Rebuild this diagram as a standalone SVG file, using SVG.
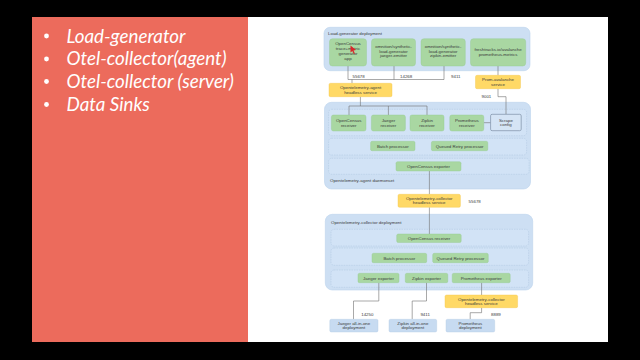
<svg xmlns="http://www.w3.org/2000/svg" width="640" height="360" viewBox="0 0 640 360">
<defs>
<style>
.cont{fill:#cddff3;stroke:#bcd3ec;stroke-width:0.6}
.row{fill:#d2e3f6;stroke:#a7bfdc;stroke-width:0.4;stroke-dasharray:1.5 1}
.g{fill:#a9d7a2;stroke:#96c98f;stroke-width:0.4}
.y{fill:#ffd966;stroke:#f3c64a;stroke-width:0.4}
.b{fill:#c7dbf1;stroke:#b3cbe7;stroke-width:0.4}
.sc{fill:#d5e4f5;stroke:#6f8199;stroke-width:0.6}
.t{font-family:"Liberation Sans",Arial,sans-serif;font-size:4.4px;fill:#3a3a3a;text-anchor:middle}
.l{font-family:"Liberation Sans",Arial,sans-serif;font-size:4.4px;fill:#3a3a3a}
.ln{stroke:#6e6e6e;stroke-width:0.6;fill:none}
.bul{font-family:Lato,"Open Sans",sans-serif;font-style:italic;font-size:18.8px;fill:#ffffff}
</style>
</defs>
<rect x="0" y="0" width="640" height="360" fill="#000"/>
<rect x="32" y="17" width="216" height="325" fill="#ec6b5c"/>
<rect x="248" y="17" width="360" height="325" fill="#ffffff"/>

<g id="bullets">
<circle cx="46.5" cy="36" r="2.4" fill="#fff"/>
<circle cx="46.5" cy="59" r="2.4" fill="#fff"/>
<circle cx="46.5" cy="81.5" r="2.4" fill="#fff"/>
<circle cx="46.5" cy="104.5" r="2.4" fill="#fff"/>
<text class="bul" x="66.5" y="42.5">Load-generator</text>
<text class="bul" x="66.5" y="65.3">Otel-collector(agent)</text>
<text class="bul" x="66.5" y="88">Otel-collector (server)</text>
<text class="bul" x="66.5" y="110.8">Data Sinks</text>
</g>

<g id="containers">
<rect class="cont" x="324" y="27.3" width="206" height="43.4" rx="6"/>
<text class="l" x="328" y="35">Load-generator deployment</text>
<rect class="cont" x="324.5" y="102.3" width="206" height="86.7" rx="7"/>
<rect class="row" x="328.6" y="109.3" width="198" height="26.4" rx="3"/>
<rect class="row" x="328.6" y="138.3" width="198" height="16.7" rx="3"/>
<rect class="row" x="328.6" y="158.3" width="200.5" height="16" rx="3"/>
<text class="l" x="330" y="182">Opentelemetry-agent daemonset</text>
<rect class="cont" x="325.3" y="214.3" width="207.4" height="75.7" rx="7"/>
<text class="l" x="331" y="224">Opentelemetry-collector deployment</text>
<rect class="row" x="331" y="229.3" width="197.6" height="16.7" rx="3"/>
<rect class="row" x="331" y="248" width="197.6" height="17.3" rx="3"/>
<rect class="row" x="331" y="270" width="197.6" height="17.3" rx="3"/>
</g>

<g id="connectors">
<path class="ln" d="M348 66V79.5H444M394 66V79.5M444 66V79.5M352 79.5V83.3"/>
<path class="ln" d="M498 66V75.3"/>
<path class="ln" d="M498 88.7V96.7H506V114.3"/>
<path class="ln" d="M360.4 96.7V106M349 106H427M349 106V115M388.4 106V115M427 106V115"/>
<path class="ln" d="M483.7 122.7H490.6"/>
<path class="ln" d="M429.4 171V194.3M429.4 207.3V234"/>
<path class="ln" d="M378.8 282.7V301H353.5V319.3"/>
<path class="ln" d="M426.5 282.7V301H412.2V319.3"/>
<path class="ln" d="M481.6 282.7V295M481.6 307.7V312.7H470.2V319.3"/>
<text class="l" x="352.5" y="77.5">55678</text>
<text class="l" x="400" y="77.5">14268</text>
<text class="l" x="451" y="77.5">9411</text>
<text class="l" x="481.5" y="98">9001</text>
<text class="l" x="468.6" y="203">55678</text>
<text class="l" x="361.2" y="316">14250</text>
<text class="l" x="420.4" y="316">9411</text>
<text class="l" x="491" y="316">8889</text>
</g>

<g id="ocgen">
<rect class="g" x="329.5" y="38.7" width="37" height="27.3" rx="3"/>
<text class="t" x="348" y="44.5">OpenCensus</text>
<text class="t" x="348" y="49.5">trace+metric</text>
<text class="t" x="348" y="54.5">generator</text>
<text class="t" x="348" y="59.7">app</text>
<path d="M350.5 45.5L356 50L353.5 50.5L355 53.5L353.8 54L352.3 51L350.5 52.5Z" fill="#d8262b"/>
</g>
<g id="jaegeremitter">
<rect class="g" x="371.5" y="38.7" width="44" height="27.3" rx="3"/>
<text class="t" x="393.5" y="48">omnition/synthetic-</text>
<text class="t" x="393.5" y="52.6">load-generator</text>
<text class="t" x="393.5" y="57.2">jaeger-emitter</text>
</g>
<g id="zipkinemitter">
<rect class="g" x="421" y="38.7" width="44.3" height="27.3" rx="3"/>
<text class="t" x="443.1" y="48">omnition/synthetic-</text>
<text class="t" x="443.1" y="52.6">load-generator</text>
<text class="t" x="443.1" y="57.2">zipkin-emitter</text>
</g>
<g id="avalanche">
<rect class="g" x="470.5" y="38.7" width="55.2" height="27.3" rx="3"/>
<text class="t" x="498.1" y="51">freshtracks.io/avalanche</text>
<text class="t" x="498.1" y="55.6">prometheus-metrics</text>
</g>
<g id="agentsvc">
<rect class="y" x="329" y="83.3" width="63" height="13.4" rx="1.5"/>
<text class="t" x="360.5" y="89">Opentelemetry-agent</text>
<text class="t" x="360.5" y="93.6">headless service</text>
</g>
<g id="promsvc">
<rect class="y" x="475.5" y="75.3" width="45" height="13.4" rx="1.5"/>
<text class="t" x="498" y="81">Prom-avalanche</text>
<text class="t" x="498" y="85.6">service</text>
</g>

<g id="ocrecv">
<rect class="g" x="331.4" y="115" width="34.6" height="16" rx="2"/>
<text class="t" x="348.7" y="122">OpenCensus</text>
<text class="t" x="348.7" y="126.6">receiver</text>
</g>
<g id="jaegerrecv">
<rect class="g" x="371.4" y="115" width="34" height="16" rx="2"/>
<text class="t" x="388.4" y="122">Jaeger</text>
<text class="t" x="388.4" y="126.6">receiver</text>
</g>
<g id="zipkinrecv">
<rect class="g" x="410" y="115" width="34" height="16" rx="2"/>
<text class="t" x="427" y="122">Zipkin</text>
<text class="t" x="427" y="126.6">receiver</text>
</g>
<g id="promrecv">
<rect class="g" x="449.8" y="115" width="34" height="16" rx="2"/>
<text class="t" x="466.8" y="122">Prometheus</text>
<text class="t" x="466.8" y="126.6">receiver</text>
</g>
<g id="scrape">
<rect class="sc" x="490.6" y="114.3" width="30.6" height="16.4" rx="1.5"/>
<text class="t" x="505.9" y="121.5">Scrape</text>
<text class="t" x="505.9" y="126.1">config</text>
</g>
<g id="agentbatch">
<rect class="g" x="370.6" y="141.3" width="44.4" height="9.4" rx="1.5"/>
<text class="t" x="392.8" y="147.5">Batch processor</text>
</g>
<g id="agentqueued">
<rect class="g" x="431.4" y="141.3" width="56.4" height="9.4" rx="1.5"/>
<text class="t" x="459.6" y="147.5">Queued Retry processor</text>
</g>
<g id="agentexp">
<rect class="g" x="396" y="161.7" width="65" height="9.3" rx="1.5"/>
<text class="t" x="428.5" y="167.8">OpenCensus exporter</text>
</g>

<g id="collsvc">
<rect class="y" x="398" y="194.3" width="62.4" height="13" rx="1.5"/>
<text class="t" x="429.2" y="199.8">Opentelemetry-collector</text>
<text class="t" x="429.2" y="204.4">headless service</text>
</g>

<g id="collrecv">
<rect class="g" x="396.7" y="234" width="64.5" height="8.5" rx="1.5"/>
<text class="t" x="429" y="239.7">OpenCensus receiver</text>
</g>
<g id="collbatch">
<rect class="g" x="372" y="253.3" width="54.7" height="9.4" rx="1.5"/>
<text class="t" x="399.3" y="259.5">Batch processor</text>
</g>
<g id="collqueued">
<rect class="g" x="432.7" y="253.3" width="55.6" height="9.4" rx="1.5"/>
<text class="t" x="460.5" y="259.5">Queued Retry processor</text>
</g>
<g id="jaegerexp">
<rect class="g" x="358" y="273.3" width="41" height="9.4" rx="1.5"/>
<text class="t" x="378.5" y="279.5">Jaeger exporter</text>
</g>
<g id="zipkinexp">
<rect class="g" x="405.3" y="273.3" width="42.5" height="9.4" rx="1.5"/>
<text class="t" x="426.5" y="279.5">Zipkin exporter</text>
</g>
<g id="promexp">
<rect class="g" x="452.2" y="273.3" width="58" height="9.4" rx="1.5"/>
<text class="t" x="481.2" y="279.5">Prometheus exporter</text>
</g>
<g id="collsvc2">
<rect class="y" x="445" y="295" width="72.6" height="12.7" rx="1.5"/>
<text class="t" x="481.3" y="300.5">Opentelemetry-collector</text>
<text class="t" x="481.3" y="305.1">headless service</text>
</g>
<g id="jaegerdep">
<rect class="b" x="329.8" y="319.3" width="48.2" height="12.7" rx="1.5"/>
<text class="t" x="353.9" y="324.8">Jaeger all-in-one</text>
<text class="t" x="353.9" y="329.4">deployment</text>
</g>
<g id="zipkindep">
<rect class="b" x="389" y="319.3" width="47.7" height="12.7" rx="1.5"/>
<text class="t" x="412.85" y="324.8">Zipkin all-in-one</text>
<text class="t" x="412.85" y="329.4">deployment</text>
</g>
<g id="promdep">
<rect class="b" x="446" y="319.3" width="48.7" height="12.7" rx="1.5"/>
<text class="t" x="470.35" y="324.8">Prometheus</text>
<text class="t" x="470.35" y="329.4">deployment</text>
</g>
</svg>
